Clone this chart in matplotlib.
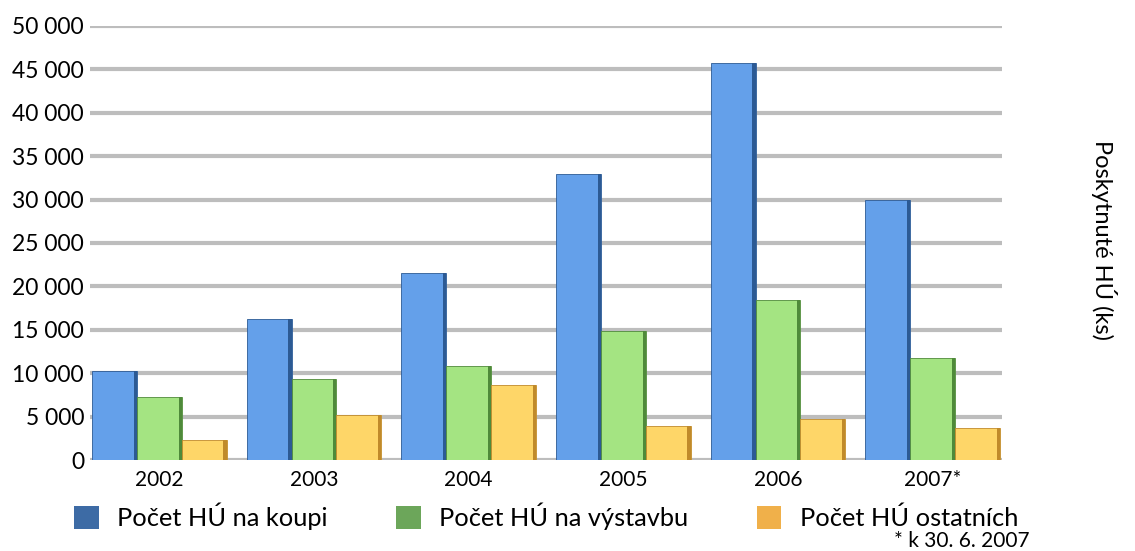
import numpy as np
import matplotlib.pyplot as plt
from matplotlib.patches import Patch

# Data
years = ['2002', '2003', '2004', '2005', '2006', '2007*']
koupi = [10300, 16300, 21500, 32900, 45700, 29900]
vystavba = [7300, 9300, 10800, 14900, 18400, 11700]
ostatni = [2300, 5200, 8700, 3900, 4700, 3700]
series_names = ['Počet HÚ na koupi', 'Počet HÚ na výstavbu', 'Počet HÚ ostatních']
yticks = [0, 5000, 10000, 15000, 20000, 25000, 30000, 35000, 40000, 45000, 50000]

plt.rcParams['font.family'] = ['Lato', 'DejaVu Sans']

bar_faces = ['#64a0ea', '#a4e482', '#fed668']
bar_sides = ['#2c5a94', '#4f8a3a', '#c08a2a']
legend_cols = ['#3d6ba5', '#6ca65a', '#f0b04a']

fig = plt.figure(figsize=(11.35, 5.51), dpi=100)
ax = fig.add_axes([0.079, 0.165, 0.804, 0.788])

x = np.arange(len(years))
w = 0.29
for i, vals in enumerate([koupi, vystavba, ostatni]):
    left = x + (i - 1.5) * w
    ax.bar(left, vals, w, align='edge', color=bar_faces[i], edgecolor=bar_sides[i],
           linewidth=0.6, zorder=3)
    # darker shaded side to give the bars some depth
    ax.bar(left + w * 0.93, vals, w * 0.07, align='edge', color=bar_sides[i],
           linewidth=0, zorder=4)

ax.set_xlim(-0.45, 5.45)
ax.set_ylim(0, 50000)
ax.set_yticks(yticks)
ax.set_yticklabels(['{:,}'.format(v).replace(',', ' ') for v in yticks], fontsize=16.5)
ax.set_xticks(x)
ax.set_xticklabels(years, fontsize=15)
ax.tick_params(length=0, pad=4)
ax.tick_params(axis='x', pad=7)
ax.grid(axis='y', color='#bdbdbd', linewidth=3, zorder=0)
for s in ax.spines.values():
    s.set_visible(False)

fig.text(0.973, 0.565, 'Poskytnuté HÚ (ks)', rotation=270, fontsize=17,
         ha='center', va='center')

handles = [Patch(facecolor=c, edgecolor='none') for c in legend_cols]
fig.legend(handles, series_names, loc='center left', bbox_to_anchor=(0.065, 0.0626),
           ncol=3, frameon=False, fontsize=18.3, handlelength=0.98, handleheight=0.98,
           handletextpad=0.71, columnspacing=2.7, borderpad=0, borderaxespad=0)
fig.text(0.9075, 0.0073, '* k 30. 6. 2007', fontsize=15, ha='right', va='baseline')

fig.savefig('out.png', dpi=100)
